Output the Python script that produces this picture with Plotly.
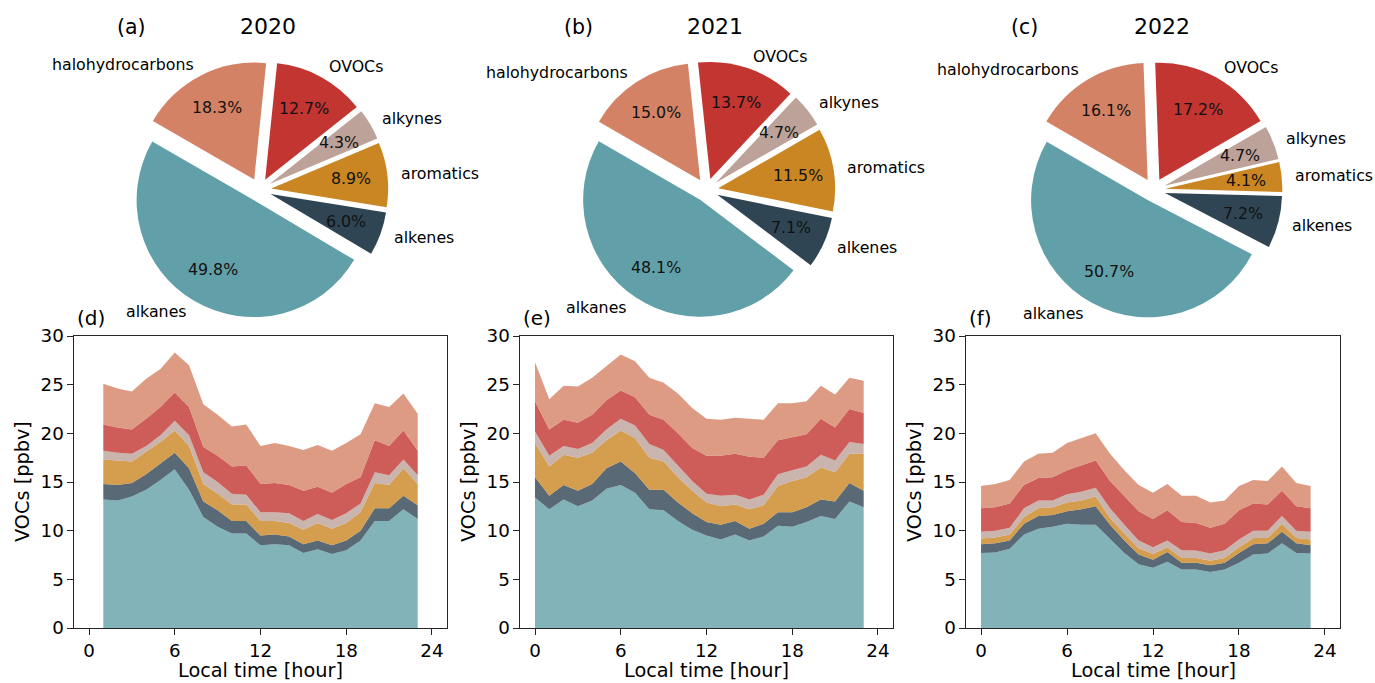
import numpy as np
import plotly.graph_objects as go

# ---------------- data ----------------
SPECIES = ["alkanes", "alkenes", "aromatics", "alkynes", "OVOCs", "halohydrocarbons"]
COLORS = ["#61a0a8", "#2f4554", "#ca8622", "#bda29a", "#c23531", "#d48265"]
YEARS = ["2020", "2021", "2022"]
PIE_TAGS = ["(a)", "(b)", "(c)"]
AREA_TAGS = ["(d)", "(e)", "(f)"]

# pie shares [%] in SPECIES order
PIE_2020 = [49.8, 6.0, 8.9, 4.3, 12.7, 18.3]
PIE_2021 = [48.1, 7.1, 11.5, 4.7, 13.7, 15.0]
PIE_2022 = [50.7, 7.2, 4.1, 4.7, 17.2, 16.1]

# diurnal contributions [ppbv]
HOURS_2020 = [1, 2, 3, 4, 5, 6, 7, 8, 9, 10, 11, 12, 13, 14, 15, 16, 17, 18, 19, 20, 21, 22, 23]
ALKANES_2020 = [13.2, 13.1, 13.5, 14.2, 15.2, 16.3, 14.2, 11.4, 10.4, 9.7, 9.7, 8.5, 8.6, 8.5, 7.7, 8.1, 7.6, 8.0, 9.0, 11.0, 11.0, 12.2, 11.2]
ALKENES_2020 = [1.6, 1.6, 1.4, 1.6, 1.7, 1.7, 2.2, 1.6, 1.7, 1.3, 1.3, 1.0, 1.0, 0.9, 0.9, 0.9, 0.9, 1.0, 1.0, 1.3, 1.3, 1.4, 1.4]
AROMATICS_2020 = [2.5, 2.5, 2.2, 2.3, 2.2, 2.3, 2.3, 1.8, 1.7, 1.7, 1.7, 1.5, 1.4, 1.4, 1.5, 1.8, 1.7, 1.8, 1.9, 2.6, 2.4, 2.8, 2.2]
ALKYNES_2020 = [0.9, 0.8, 0.8, 0.6, 0.7, 1.0, 1.1, 1.2, 1.2, 1.1, 1.0, 0.9, 0.9, 1.0, 0.9, 0.9, 0.9, 1.0, 0.9, 1.1, 1.0, 0.9, 0.9]
OVOCS_2020 = [2.7, 2.6, 2.5, 2.8, 2.9, 2.9, 2.9, 2.6, 2.7, 2.8, 3.0, 2.9, 3.0, 2.9, 3.1, 2.8, 2.8, 3.0, 2.7, 3.3, 3.0, 3.0, 2.5]
HALO_2020 = [4.2, 4.0, 3.9, 4.1, 3.9, 4.1, 4.3, 4.4, 4.2, 4.1, 4.2, 3.9, 4.1, 4.0, 4.2, 4.3, 4.3, 4.2, 4.4, 3.8, 4.0, 3.8, 3.8]

HOURS_2021 = [0, 1, 2, 3, 4, 5, 6, 7, 8, 9, 10, 11, 12, 13, 14, 15, 16, 17, 18, 19, 20, 21, 22, 23]
ALKANES_2021 = [13.4, 12.2, 13.2, 12.5, 13.1, 14.3, 14.7, 13.9, 12.2, 12.1, 11.0, 10.1, 9.5, 9.1, 9.6, 9.0, 9.4, 10.5, 10.4, 10.9, 11.5, 11.2, 13.0, 12.4]
ALKENES_2021 = [2.1, 1.4, 1.5, 1.6, 1.7, 2.1, 2.4, 2.0, 2.0, 2.1, 1.9, 1.7, 1.4, 1.5, 1.4, 1.2, 1.3, 1.4, 1.5, 1.5, 1.7, 1.8, 1.9, 1.7]
AROMATICS_2021 = [3.5, 3.0, 3.1, 3.4, 3.2, 2.9, 3.2, 3.6, 3.3, 2.9, 2.6, 2.3, 2.0, 1.9, 1.7, 2.0, 1.9, 2.7, 3.2, 3.1, 3.3, 3.0, 3.0, 3.8]
ALKYNES_2021 = [1.2, 1.1, 0.9, 0.9, 1.0, 1.1, 1.2, 1.3, 1.4, 1.2, 1.2, 1.0, 0.9, 1.1, 1.0, 1.0, 1.1, 1.2, 1.1, 1.1, 1.3, 1.2, 1.2, 1.0]
OVOCS_2021 = [3.1, 2.7, 2.7, 2.7, 2.9, 3.0, 2.9, 2.9, 3.0, 3.1, 3.3, 3.4, 3.9, 4.1, 4.2, 4.4, 3.8, 3.5, 3.4, 3.3, 3.7, 3.4, 3.4, 3.2]
HALO_2021 = [4.0, 3.1, 3.5, 3.7, 3.8, 3.5, 3.7, 3.7, 3.8, 3.8, 4.1, 4.1, 3.8, 3.7, 3.7, 3.9, 3.9, 3.8, 3.5, 3.4, 3.4, 3.4, 3.2, 3.3]

HOURS_2022 = [0, 1, 2, 3, 4, 5, 6, 7, 8, 9, 10, 11, 12, 13, 14, 15, 16, 17, 18, 19, 20, 21, 22, 23]
ALKANES_2022 = [7.7, 7.75, 8.15, 9.6, 10.2, 10.4, 10.7, 10.6, 10.6, 9.1, 7.7, 6.55, 6.2, 6.8, 6.0, 6.0, 5.75, 6.0, 6.7, 7.55, 7.65, 8.7, 7.7, 7.65]
ALKENES_2022 = [0.9, 0.95, 0.85, 1.1, 1.3, 1.2, 1.3, 1.6, 1.9, 1.5, 1.3, 1.0, 0.8, 1.0, 0.7, 0.7, 0.7, 0.7, 1.0, 1.05, 1.05, 1.2, 1.0, 0.85]
AROMATICS_2022 = [0.6, 0.6, 0.6, 0.7, 0.8, 0.8, 0.9, 0.9, 1.0, 0.7, 0.7, 0.65, 0.6, 0.5, 0.5, 0.5, 0.45, 0.5, 0.6, 0.65, 0.55, 0.8, 0.55, 0.6]
ALKYNES_2022 = [0.7, 0.7, 0.7, 0.9, 0.8, 0.7, 0.85, 0.9, 0.9, 1.0, 0.9, 0.8, 0.7, 0.7, 0.8, 0.75, 0.75, 0.8, 0.8, 0.75, 0.75, 0.8, 0.75, 0.8]
OVOCS_2022 = [2.4, 2.4, 2.5, 2.4, 2.3, 2.4, 2.45, 2.7, 2.8, 2.8, 2.9, 3.0, 2.9, 3.1, 2.9, 2.85, 2.65, 2.7, 3.0, 2.8, 2.7, 2.6, 2.5, 2.4]
HALO_2022 = [2.3, 2.4, 2.4, 2.4, 2.5, 2.5, 2.8, 2.8, 2.8, 2.8, 2.7, 2.7, 2.7, 2.7, 2.7, 2.8, 2.6, 2.4, 2.5, 2.4, 2.4, 2.5, 2.4, 2.3]

X_TICKS = [0, 6, 12, 18, 24]
Y_TICKS = [0, 5, 10, 15, 20, 25, 30]

PIES = [PIE_2020, PIE_2021, PIE_2022]
AREAS = [
    (HOURS_2020, [ALKANES_2020, ALKENES_2020, AROMATICS_2020, ALKYNES_2020, OVOCS_2020, HALO_2020]),
    (HOURS_2021, [ALKANES_2021, ALKENES_2021, AROMATICS_2021, ALKYNES_2021, OVOCS_2021, HALO_2021]),
    (HOURS_2022, [ALKANES_2022, ALKENES_2022, AROMATICS_2022, ALKYNES_2022, OVOCS_2022, HALO_2022]),
]

# ---------------- layout constants (pixels) ----------------
W, H = 1375, 683
FONT = "DejaVu Sans"
AX_COLOR = "#262626"
PIE_CX = [259.5, 706.6, 1153.7]
PIE_CY = 190.0
PIE_R = 117.0
PULL = 0.1
START_ANGLE = 150.0
LABEL_DIST = 1.2
PCT_DIST = 0.79
OVER = 1.6
AREA_X = [(74, 447), (520, 893), (966, 1340)]
AREA_Y = (336, 628)
PIE_FS = 15.8


def rgba(hex_color, a):
    h = hex_color.lstrip("#")
    return "rgba(%d,%d,%d,%.2f)" % (int(h[0:2], 16), int(h[2:4], 16), int(h[4:6], 16), a)


fig = go.Figure()
annotations = []
layout_axes = {}

# ---------------- area panels ----------------
for k, (hours, series) in enumerate(AREAS):
    xa = "x" if k == 0 else "x%d" % (k + 1)
    ya = "y" if k == 0 else "y%d" % (k + 1)
    for name, color, vals in zip(SPECIES, COLORS, series):
        fig.add_trace(go.Scatter(
            x=hours, y=vals, name=name, mode="lines",
            line=dict(width=0, color=rgba(color, 0.8)),
            fillcolor=rgba(color, 0.8),
            stackgroup="s%d" % k, xaxis=xa, yaxis=ya,
            showlegend=False, hoverinfo="x+y+name",
        ))
    x0, x1 = AREA_X[k]
    common = dict(
        showline=True, linecolor=AX_COLOR, linewidth=1.1, mirror=True,
        ticks="outside", ticklen=5.5, tickwidth=1.1, tickcolor=AX_COLOR,
        showgrid=False, zeroline=False, automargin=False,
        tickfont=dict(family=FONT, size=18.3, color="#000"),
    )
    xkey = "xaxis" if k == 0 else "xaxis%d" % (k + 1)
    ykey = "yaxis" if k == 0 else "yaxis%d" % (k + 1)
    layout_axes[xkey] = dict(
        domain=[x0 / W, x1 / W], range=[-1.05, 25.05],
        tickmode="array", tickvals=X_TICKS, anchor=ya, **common)
    layout_axes[ykey] = dict(
        domain=[1 - AREA_Y[1] / H, 1 - AREA_Y[0] / H], range=[0, 30],
        tickmode="array", tickvals=Y_TICKS, anchor=xa, **common)
    # panel tag
    annotations.append(dict(text=AREA_TAGS[k], x=(x0 + 1) / W, y=1 - 318 / H,
                            xref="paper", yref="paper", xanchor="left", yanchor="middle",
                            showarrow=False, font=dict(family=FONT, size=20, color="#000")))
    # axis titles
    annotations.append(dict(text="Local time [hour]", x=(x0 + x1) / 2 / W, y=1 - 670 / H,
                            xref="paper", yref="paper", xanchor="center", yanchor="middle",
                            showarrow=False, font=dict(family=FONT, size=19.3, color="#000")))
    annotations.append(dict(text="VOCs [ppbv]", x=(x0 - 52) / W, y=1 - (AREA_Y[0] + AREA_Y[1]) / 2 / H,
                            xref="paper", yref="paper", xanchor="center", yanchor="middle",
                            textangle=-90, showarrow=False,
                            font=dict(family=FONT, size=19.3, color="#000")))

# ---------------- pies ----------------
for k, vals in enumerate(PIES):
    cx = PIE_CX[k]
    half = PIE_R * (1 + PULL)
    fig.add_trace(go.Pie(
        values=vals[::-1], labels=SPECIES[::-1],
        marker=dict(colors=COLORS[::-1], line=dict(width=0)),
        sort=False, direction="clockwise", rotation=-(START_ANGLE - 90),
        pull=[PULL] * len(vals), textinfo="none", showlegend=False,
        hoverinfo="label+value", automargin=False,
        domain=dict(x=[(cx - half) / W, (cx + half) / W],
                    y=[1 - (PIE_CY + half) / H, 1 - (PIE_CY - half) / H]),
    ))
    # overlay axes in units of the pie radius for the text labels
    idx = 4 + k
    L = OVER * PIE_R
    layout_axes["xaxis%d" % idx] = dict(domain=[(cx - L) / W, (cx + L) / W], range=[-OVER, OVER],
                                        visible=False, anchor="y%d" % idx, fixedrange=True,
                                        automargin=False)
    layout_axes["yaxis%d" % idx] = dict(domain=[1 - (PIE_CY + L) / H, 1 - (PIE_CY - L) / H],
                                        range=[-OVER, OVER], visible=False, anchor="x%d" % idx,
                                        fixedrange=True, automargin=False)
    v = np.array(vals, dtype=float)
    frac = v / v.sum()
    start = START_ANGLE + 360 * (np.cumsum(frac) - frac)
    mid = np.deg2rad(start + 180 * frac)
    for name, val, a in zip(SPECIES, vals, mid):
        c, s = np.cos(a), np.sin(a)
        annotations.append(dict(text=name, x=LABEL_DIST * c, y=LABEL_DIST * s,
                                xref="x%d" % idx, yref="y%d" % idx,
                                xanchor="left" if c > 0 else "right", yanchor="middle",
                                showarrow=False, font=dict(family=FONT, size=PIE_FS, color="#000")))
        annotations.append(dict(text="%.1f%%" % val, x=PCT_DIST * c, y=PCT_DIST * s,
                                xref="x%d" % idx, yref="y%d" % idx,
                                xanchor="center", yanchor="middle",
                                showarrow=False, font=dict(family=FONT, size=PIE_FS, color="#111")))
    # titles
    annotations.append(dict(text=PIE_TAGS[k], x=(cx - 145) / W, y=1 - 27 / H, xref="paper", yref="paper",
                            xanchor="left", yanchor="middle", showarrow=False,
                            font=dict(family=FONT, size=20.5, color="#000")))
    annotations.append(dict(text=YEARS[k], x=(cx + 8) / W, y=1 - 27 / H, xref="paper", yref="paper",
                            xanchor="center", yanchor="middle", showarrow=False,
                            font=dict(family=FONT, size=22, color="#000")))

fig.update_layout(
    width=W, height=H, margin=dict(l=0, r=0, t=0, b=0, pad=0), autosize=False,
    paper_bgcolor="white", plot_bgcolor="rgba(0,0,0,0)",
    font=dict(family=FONT, color="#000"),
    annotations=annotations, showlegend=False,
    **layout_axes,
)

fig.write_html(
    "out.html",
    config={"displayModeBar": False, "responsive": False},
    post_script="document.body.style.margin='0';document.body.style.overflow='hidden';",
)
